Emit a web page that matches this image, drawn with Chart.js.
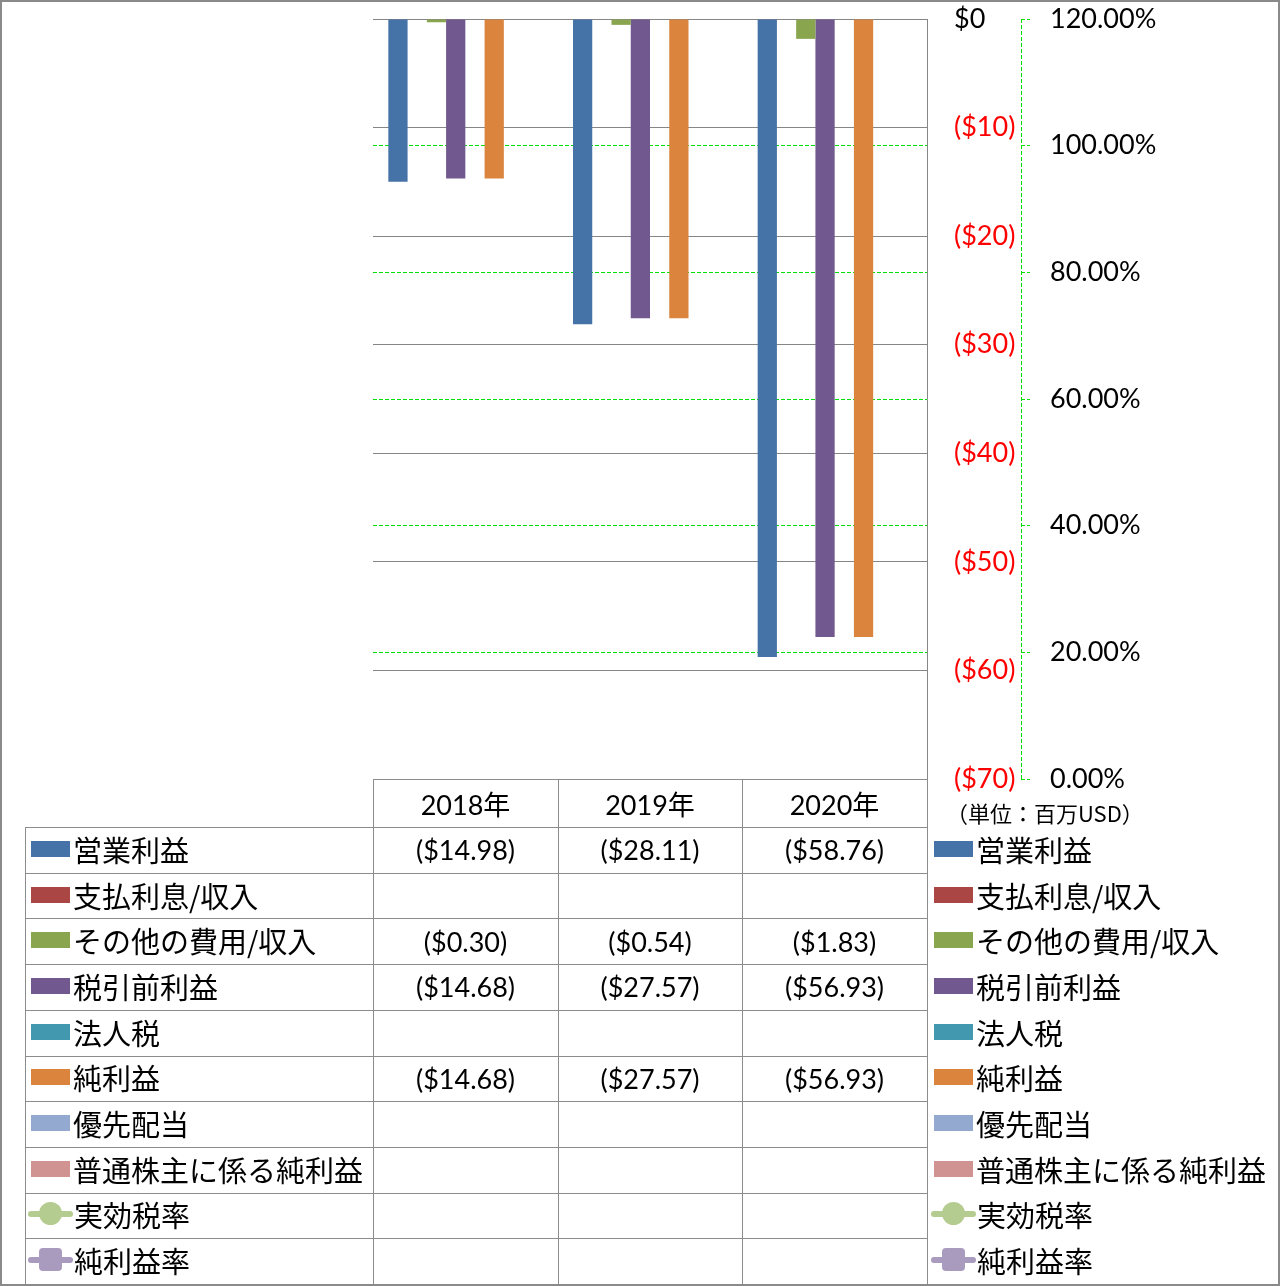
<!DOCTYPE html>
<html lang="ja">
<head>
<meta charset="UTF-8">
<title>損益推移（単位：百万USD）</title>
<script src="https://cdn.jsdelivr.net/npm/chart.js"></script>
<style>
  body { margin: 0; background: #fff; }
  #wrap { position: relative; width: 1280px; height: 1286px; overflow: hidden; }
  #chart { position: absolute; left: 0; top: 0; }
  #overlay { position: absolute; left: 0; top: 0; width: 1280px; height: 1286px; }
  #frame { position: absolute; inset: 0; border: 2px solid #8a8a8a; box-sizing: border-box; pointer-events: none; }
  .hl { position: absolute; height: 1px; background: #8c8c8c; }
  .vl { position: absolute; width: 1px; background: #8c8c8c; }
  .cell { position: absolute; display: flex; align-items: center; justify-content: center;
          font: 27px Lato, "Noto Sans CJK JP", sans-serif; color: #000; white-space: nowrap; }
  .key { position: absolute; display: flex; align-items: center; white-space: nowrap;
         font: 29px "Noto Sans CJK JP", sans-serif; color: #000; margin-top: -1px; }
  .sw { display: inline-block; width: 39px; height: 16px; margin-right: 3px; }
  .lk { position: relative; display: inline-block; width: 45px; height: 24px; margin-left: -3px; margin-right: 1px; }
  .lk i { position: absolute; left: 0; right: 0; top: 9px; height: 6px; border-radius: 3px; }
  .lk b { position: absolute; left: 11px; top: 0; width: 23px; height: 23px; }
  .lk b.circle { border-radius: 50%; }
  .lk b.square { border-radius: 4px; }
  #unit { position: absolute; left: 946px; top: 796px; font: 22px "Noto Sans CJK JP", sans-serif; color: #000; white-space: nowrap; }
</style>
</head>
<body>
<div id="wrap">
  <canvas id="chart" width="1280" height="1286"></canvas>
  <div id="overlay"></div>
  <div id="unit">（単位：百万USD）</div>
  <div id="frame"></div>
</div>
<script>
// data (百万USD)
const years = ['2018年', '2019年', '2020年'];
const operatingIncome = [-14.98, -28.11, -58.76];
const interestIncome = [null, null, null];
const otherIncome = [-0.30, -0.54, -1.83];
const pretaxIncome = [-14.68, -27.57, -56.93];
const incomeTax = [null, null, null];
const netIncome = [-14.68, -27.57, -56.93];
const preferredDividends = [null, null, null];
const netIncomeCommon = [null, null, null];
const effectiveTaxRate = [null, null, null];
const netMargin = [null, null, null];

// axis ticks
const dollarTicks = [0, -10, -20, -30, -40, -50, -60, -70];
const percentTicks = [1.2, 1.0, 0.8, 0.6, 0.4, 0.2, 0];

const series = [
  { label: '営業利益', data: operatingIncome, color: '#4572A7' },
  { label: '支払利息/収入', data: interestIncome, color: '#AA4643' },
  { label: 'その他の費用/収入', data: otherIncome, color: '#89A54E' },
  { label: '税引前利益', data: pretaxIncome, color: '#71588F' },
  { label: '法人税', data: incomeTax, color: '#4198AF' },
  { label: '純利益', data: netIncome, color: '#DB843D' },
  { label: '優先配当', data: preferredDividends, color: '#93A9CF' },
  { label: '普通株主に係る純利益', data: netIncomeCommon, color: '#D19392' },
  { label: '実効税率', data: effectiveTaxRate, color: '#B5CC90', line: 'circle' },
  { label: '純利益率', data: netMargin, color: '#A99BBD', line: 'square' }
];

const gridGray = '#868686';
const gridGreen = '#00E000';
const numFont = { family: 'Lato', size: 27 };
const dollarAxisW = 94;

function money(v) {
  if (v == null) return '';
  return v < 0 ? '($' + Math.abs(v).toFixed(2) + ')' : '$' + v.toFixed(2);
}
function dollarLabel(v) {
  if (v === 0) return '$0';
  return v < 0 ? '($' + Math.abs(v) + ')' : '$' + v;
}
// tick padding is only used for label placement here, not for the plot inset
function noLabelInset(s) {
  s.paddingTop = 0;
  s.paddingBottom = 0;
}

const datasets = series.map(s => s.line ? {
  type: 'line', label: s.label, data: s.data, yAxisID: 'y2',
  borderColor: s.color, backgroundColor: s.color, borderWidth: 5,
  pointStyle: s.line === 'circle' ? 'circle' : 'rectRounded', pointRadius: 10
} : {
  type: 'bar', label: s.label, data: s.data, yAxisID: 'y',
  backgroundColor: s.color, borderWidth: 0,
  categoryPercentage: 0.834, barPercentage: 1
});

const dashedAxis = {
  id: 'dashedAxis',
  afterDraw(chart) {
    const s = chart.scales.y2;
    const ctx = chart.ctx;
    ctx.save();
    ctx.strokeStyle = gridGreen;
    ctx.lineWidth = 1;
    ctx.setLineDash([4, 2]);
    ctx.beginPath();
    ctx.moveTo(Math.round(s.left) + 0.5, s.top);
    ctx.lineTo(Math.round(s.left) + 0.5, s.bottom);
    ctx.stroke();
    ctx.restore();
  }
};

const chart = new Chart(document.getElementById('chart'), {
  data: { labels: years, datasets: datasets },
  options: {
    responsive: false,
    animation: false,
    layout: { padding: { left: 373, top: 19, right: 0, bottom: 507 } },
    plugins: { legend: { display: false }, tooltip: { enabled: false } },
    scales: {
      x: { display: false },
      y: {
        position: 'right',
        min: Math.min(...dollarTicks), max: Math.max(...dollarTicks),
        ticks: {
          stepSize: dollarTicks[0] - dollarTicks[1],
          font: numFont,
          color: ctx => ctx.tick.value < 0 ? '#FF0000' : '#000000',
          padding: 27,
          callback: v => dollarLabel(v)
        },
        grid: { color: gridGray, lineWidth: 1, drawTicks: false },
        border: { display: true, color: gridGray, width: 1 },
        afterFit: s => { s.width = dollarAxisW; noLabelInset(s); }
      },
      y2: {
        position: 'right',
        min: Math.min(...percentTicks), max: Math.max(...percentTicks),
        ticks: {
          stepSize: 0.2,
          font: numFont,
          color: '#000',
          padding: 20,
          callback: v => (v * 100).toFixed(2) + '%'
        },
        grid: {
          color: ctx => (ctx.index === 0 || ctx.index === percentTicks.length - 1) ? 'rgba(0,0,0,0)' : gridGreen,
          lineWidth: 1,
          tickLength: 9,
          tickColor: gridGreen,
          tickBorderDash: [4, 2]
        },
        border: { display: false, dash: [4, 2] },
        afterFit: s => { s.width = 1280 - 373 - 554 - dollarAxisW; noLabelInset(s); }
      }
    }
  },
  plugins: [dashedAxis]
});

// data table + legend under the plot, aligned to the category scale
function keyHtml(s) {
  if (s.line) {
    return '<span class="lk"><i style="background:' + s.color + '"></i><b class="' + s.line +
      '" style="background:' + s.color + '"></b></span>';
  }
  return '<span class="sw" style="background:' + s.color + '"></span>';
}

function buildTable() {
  const layer = document.getElementById('overlay');
  const xs = chart.scales.x;
  const area = chart.chartArea;
  const colW = (xs.right - xs.left) / years.length;
  const edges = years.map((_, i) => Math.round(xs.left + i * colW)).concat(Math.round(xs.right));
  const top = Math.round(area.bottom);
  const headH = 48, rowH = 45.7, tableLeft = 25;
  const bodyTop = top + headH;
  const bottom = bodyTop + rowH * series.length;

  function el(cls, css, html) {
    const d = document.createElement('div');
    d.className = cls;
    Object.assign(d.style, css);
    if (html) d.innerHTML = html;
    layer.appendChild(d);
  }

  el('hl', { left: edges[0] + 'px', top: top + 'px', width: (edges[3] - edges[0]) + 'px' });
  for (let i = 0; i <= series.length; i++) {
    const y = Math.round(bodyTop + i * rowH);
    el('hl', { left: tableLeft + 'px', top: y + 'px', width: (edges[3] - tableLeft) + 'px' });
  }
  edges.forEach(x => el('vl', { left: x + 'px', top: top + 'px', height: (bottom - top) + 'px' }));
  el('vl', { left: tableLeft + 'px', top: bodyTop + 'px', height: (bottom - bodyTop) + 'px' });

  years.forEach((y, i) => el('cell', {
    left: edges[i] + 'px', top: top + 'px', width: (edges[i + 1] - edges[i]) + 'px', height: headH + 'px'
  }, y));

  series.forEach((s, r) => {
    const y = bodyTop + r * rowH;
    el('key', { left: (tableLeft + 6) + 'px', top: y + 'px', height: rowH + 'px' }, keyHtml(s) + '<span>' + s.label + '</span>');
    s.data.forEach((v, i) => el('cell', {
      left: edges[i] + 'px', top: y + 'px', width: (edges[i + 1] - edges[i]) + 'px', height: rowH + 'px'
    }, money(v)));
    el('key', { left: (edges[3] + 7) + 'px', top: y + 'px', height: rowH + 'px' }, keyHtml(s) + '<span>' + s.label + '</span>');
  });
}
buildTable();
</script>
</body>
</html>
